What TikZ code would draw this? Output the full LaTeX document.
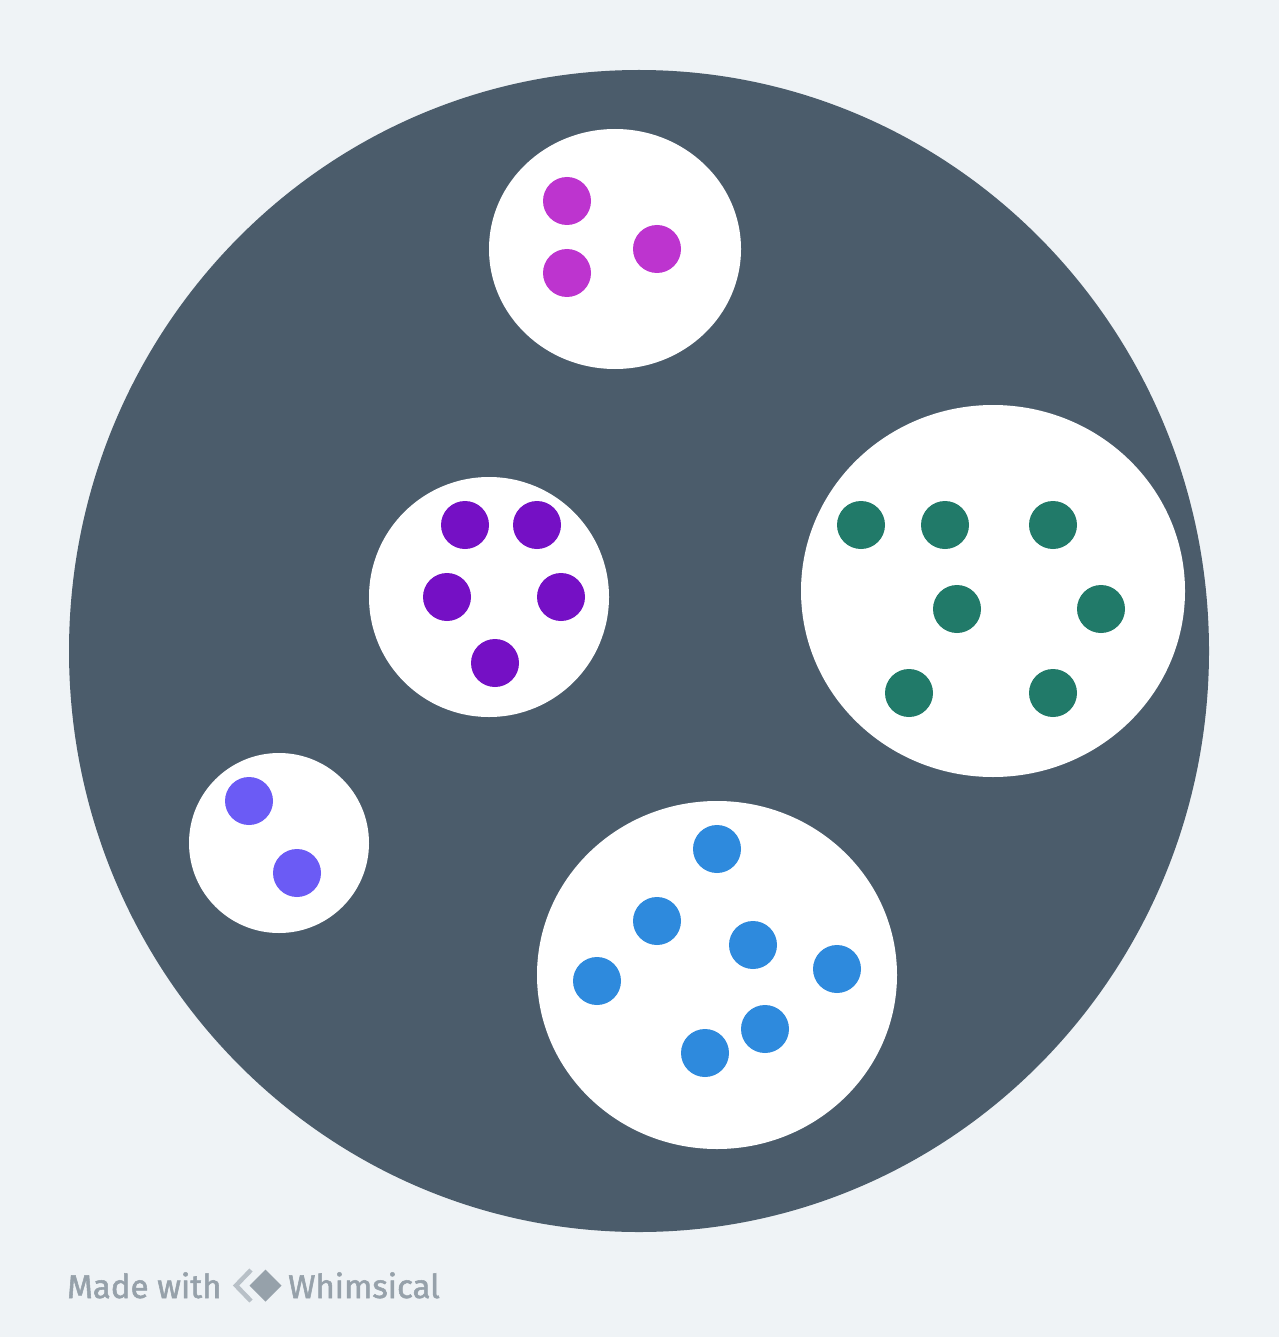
\documentclass[tikz,border=0pt]{standalone}
\usepackage{fontspec}
\setmainfont{Fira Sans}
\newfontfamily\footfont[FakeBold=1.6]{Fira Sans}
\definecolor{bg}{HTML}{EFF3F6}
\definecolor{slate}{HTML}{4B5C6B}
\definecolor{cmag}{HTML}{BD34CF}
\definecolor{cpur}{HTML}{7510C5}
\definecolor{cvio}{HTML}{6B5BF5}
\definecolor{cblu}{HTML}{2E8ADD}
\definecolor{cgrn}{HTML}{217A69}
\definecolor{logo}{HTML}{96A1AA}
\definecolor{logol}{HTML}{B8C0C7}
\begin{document}
\begin{tikzpicture}[x=1pt,y=-1pt,
  cell/.style={fill=white},
  dot/.style={circle,minimum size=48pt,inner sep=0pt,fill=#1}]
\fill[bg] (0,0) rectangle (1279,1337);
\useasboundingbox (0,0) rectangle (1279,1337);
\fill[slate] (639,651) ellipse [x radius=570, y radius=581];
% cells
\fill[cell] (615,249) ellipse [x radius=126, y radius=120];
\fill[cell] (489,597) circle [radius=120];
\fill[cell] (993,591) ellipse [x radius=192, y radius=186];
\fill[cell] (279,843) circle [radius=90];
\fill[cell] (717,975) ellipse [x radius=180, y radius=174];
% magenta
\foreach \p [count=\i] in {(567,201),(567,273),(657,249)}
  \node[dot=cmag] (m\i) at \p {};
% purple
\foreach \p [count=\i] in {(465,525),(537,525),(447,597),(561,597),(495,663)}
  \node[dot=cpur] (p\i) at \p {};
% green
\foreach \p [count=\i] in {(861,525),(945,525),(1053,525),(957,609),(1101,609),(909,693),(1053,693)}
  \node[dot=cgrn] (g\i) at \p {};
% violet
\foreach \p [count=\i] in {(249,801),(297,873)}
  \node[dot=cvio] (v\i) at \p {};
% blue
\foreach \p [count=\i] in {(717,849),(657,921),(753,945),(837,969),(597,981),(765,1029),(705,1053)}
  \node[dot=cblu] (b\i) at \p {};
% footer
\node[anchor=base west,inner sep=0pt,text=logo,font=\footfont\fontsize{33}{40}\selectfont] (made) at (67,1298) {Made with};
\draw[logol,line width=4.5pt,line join=miter] (251,1270) -- (236,1285.5) -- (251,1301);
\fill[logo] (265.5,1269.5) -- (281.5,1285.5) -- (265.5,1301.5) -- (249.5,1285.5) -- cycle;
\node[anchor=base west,inner sep=0pt,text=logo,font=\footfont\fontsize{33}{40}\selectfont] (whim) at (288,1298) {Whimsical};
\end{tikzpicture}
\end{document}
